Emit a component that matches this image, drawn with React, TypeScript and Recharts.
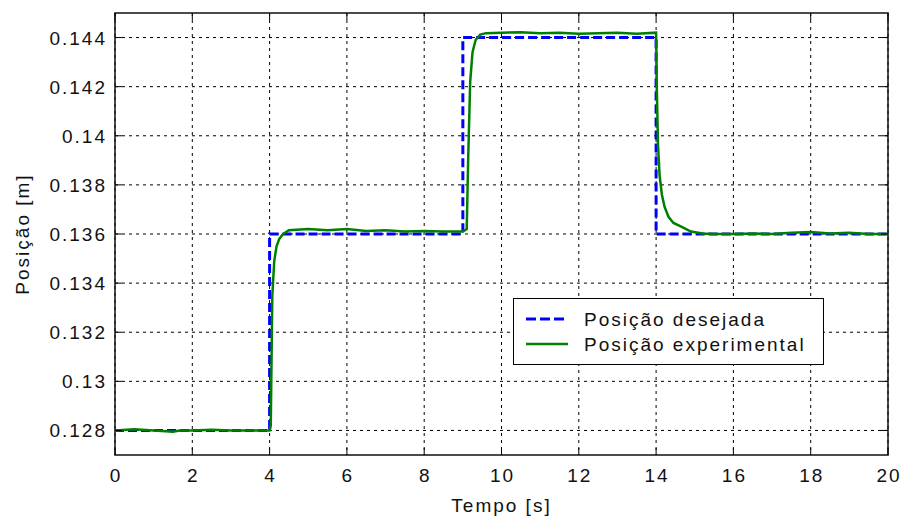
import React from 'react';
import {
  LineChart, Line, XAxis, YAxis, CartesianGrid, ReferenceArea,
} from 'recharts';

// desired reference position (step sequence)
const desiredT = [0, 4, 4, 9, 9, 14, 14, 20];
const desiredPos = [0.128, 0.128, 0.136, 0.136, 0.144, 0.144, 0.136, 0.136];

const expT = [
  0, 0.5, 1, 1.5, 1.6, 1.7, 2, 2.5, 3, 3.5, 4, 4.03, 4.07, 4.12, 4.18, 4.25, 4.35, 4.5, 4.8,
  5, 5.5, 6, 6.5, 7, 7.5, 8, 8.5, 9, 9.1, 9.14, 9.19, 9.25, 9.33, 9.45, 9.6, 10, 10.5, 11,
  11.5, 12, 12.5, 13, 13.5, 14, 14.02, 14.05, 14.09, 14.15, 14.22, 14.32, 14.45, 14.65,
  14.9, 15.2, 15.5, 16, 16.5, 17, 17.5, 18, 18.5, 19, 19.5, 20,
];
const expPos = [
  0.128, 0.12805, 0.128, 0.12795, 0.12798, 0.128, 0.128, 0.12803, 0.128, 0.128, 0.128,
  0.1282, 0.1335, 0.1349, 0.1355, 0.1358, 0.136, 0.13615, 0.13618,
  0.1362, 0.13615, 0.1362, 0.13612, 0.13615, 0.1361, 0.13612, 0.1361, 0.1361, 0.1362,
  0.1392, 0.1422, 0.1434, 0.1439, 0.14412, 0.14418, 0.1442, 0.14422, 0.14418,
  0.1442, 0.14415, 0.14418, 0.1442, 0.14416, 0.1442, 0.1418, 0.1396, 0.1384,
  0.1376, 0.1371, 0.1367, 0.13645, 0.1363, 0.1361, 0.13602, 0.136, 0.136, 0.13602,
  0.136, 0.13605, 0.13608, 0.13602, 0.13605, 0.136, 0.136,
];

const xTicks = [0, 2, 4, 6, 8, 10, 12, 14, 16, 18, 20];
const yTicks = [0.128, 0.13, 0.132, 0.134, 0.136, 0.138, 0.14, 0.142, 0.144];

const desired = desiredT.map((t, i) => ({ t, v: desiredPos[i] }));
const experimental = expT.map((t, i) => ({ t, v: expPos[i] }));

const W = 893;
const H = 508;
const PL = 107;
const PR = 880;
const PT = 5;
const PB = 447;
const FONT = '"Liberation Sans", Arial, sans-serif';
const TXT = { fontFamily: FONT, fontSize: 19, letterSpacing: 2, fill: '#111' };

const XTick = ({ x, payload }: any) => (
  <g>
    <line x1={x} x2={x} y1={PB} y2={PB - 7} stroke="#000" />
    <line x1={x} x2={x} y1={PT} y2={PT + 7} stroke="#000" />
    <text x={x + 1} y={PB + 27} textAnchor="middle" {...TXT}>{payload.value}</text>
  </g>
);

const YTick = ({ y, payload }: any) => (
  <g>
    <line x1={PL} x2={PL + 7} y1={y} y2={y} stroke="#000" />
    <line x1={PR} x2={PR - 7} y1={y} y2={y} stroke="#000" />
    <text x={PL - 8} y={y + 7} textAnchor="end" {...TXT}>{payload.value}</text>
  </g>
);

export default function App() {
  return (
    <div style={{ position: 'absolute', left: 8, top: 8, width: W, height: H, background: '#fff' }}>
      <LineChart width={W} height={H} margin={{ top: PT, right: W - PR, left: 0, bottom: 0 }}
        style={{ overflow: 'visible' }}>
        <CartesianGrid stroke="#000" strokeDasharray="3 4" horizontalValues={yTicks} verticalValues={xTicks} />
        <XAxis
          dataKey="t" type="number" domain={[0, 20]} ticks={xTicks} height={H - PB}
          axisLine={false} tickLine={false} tick={<XTick />} allowDuplicatedCategory={false}
          label={() => (
            <text x={(PL + PR) / 2} y={H - 4} textAnchor="middle" {...TXT}>Tempo [s]</text>
          )}
        />
        <YAxis
          type="number" domain={[0.127, 0.145]} ticks={yTicks} width={PL}
          axisLine={false} tickLine={false} tick={<YTick />}
          label={() => (
            <text x={0} y={0} transform={`translate(21, ${(PT + PB) / 2}) rotate(-90)`} textAnchor="middle" {...TXT}>Posição [m]</text>
          )}
        />
        <ReferenceArea x1={0} x2={20} y1={0.127} y2={0.145} fill="none" stroke="#111" strokeWidth={1.5} />
        <Line data={desired} dataKey="v" type="linear" stroke="#0000ff" strokeWidth={3}
          strokeDasharray="9 4" dot={false} isAnimationActive={false} />
        <Line data={experimental} dataKey="v" type="linear" stroke="#008000" strokeWidth={2.5}
          dot={false} isAnimationActive={false} />
      </LineChart>
      <div style={{
        position: 'absolute', left: 505, top: 290, width: 309, height: 65,
        border: '1.5px solid #000', background: '#fff',
      }}>
        <svg width={309} height={65} style={{ position: 'absolute', left: 0, top: 0 }}>
          <line x1={12} x2={54} y1={20} y2={20} stroke="#0000ff" strokeWidth={3} strokeDasharray="10 4" />
          <line x1={12} x2={54} y1={45} y2={45} stroke="#008000" strokeWidth={2.5} />
          <text x={70} y={27} {...TXT}>Posição desejada</text>
          <text x={70} y={52} {...TXT}>Posição experimental</text>
        </svg>
      </div>
    </div>
  );
}
